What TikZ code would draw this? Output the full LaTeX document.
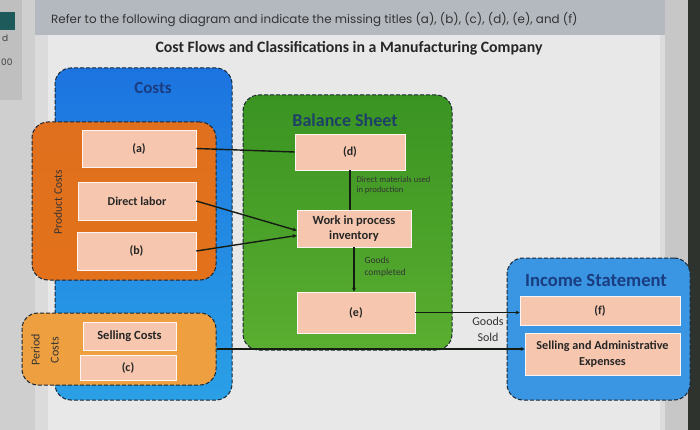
\documentclass[tikz,border=0pt]{standalone}
\usepackage{fontspec}
\setmainfont{Carlito}
\newfontfamily\hdrfont{Poppins}
\usetikzlibrary{arrows.meta}
\definecolor{costblue}{HTML}{1C74E0}
\definecolor{costblue2}{HTML}{2AA0E6}
\definecolor{prodorange}{HTML}{E0701E}
\definecolor{perorange}{HTML}{EEA040}
\definecolor{bsgreen}{HTML}{3A9422}
\definecolor{bsgreen2}{HTML}{5AAE30}
\definecolor{isblue}{HTML}{3A96E2}
\definecolor{pinkbox}{HTML}{F6C6AE}
\definecolor{edgecol}{HTML}{1A2633}
\definecolor{navytitle}{HTML}{1A3C80}
\definecolor{bstitle}{HTML}{1D4068}
\definecolor{linecol}{HTML}{141C14}
\definecolor{tealblock}{HTML}{1F5A5A}
\definecolor{hdrband}{HTML}{B4B8BF}
\definecolor{darkedge}{HTML}{2E332E}
\tikzset{
  container/.style={draw=edgecol, line width=1pt, dash pattern=on 4pt off 2pt,
    rounded corners=16pt, inner sep=0pt},
  pbox/.style={fill=pinkbox, draw=white!85!pinkbox, line width=0.6pt, inner sep=1pt,
    align=center, font=\fontsize{12}{14}\selectfont\bfseries, text=black!85},
  flow/.style={draw=linecol, line width=1.4pt, -{Stealth[length=4pt,width=4pt]}},
  flowplain/.style={draw=linecol, line width=1.4pt},
  ctitle/.style={font=\fontsize{18}{20}\selectfont\bfseries},
  small/.style={font=\fontsize{8.6}{10.5}\selectfont, align=left, text=black!80},
}
\begin{document}
\begin{tikzpicture}[x=1pt,y=-1pt]
\useasboundingbox (0,0) rectangle (700,430);
% screen background
\fill[black!19] (0,0) rectangle (700,430);
\fill[black!25] (0,0) rectangle (22,100);
\fill[tealblock] (0,12) rectangle (15,30);
\node[anchor=west, inner sep=0pt, text=black!75, font=\fontsize{9}{10}\selectfont\hdrfont] (sd) at (2,38) {d};
\node[anchor=west, inner sep=0pt, text=black!75, font=\fontsize{9}{10}\selectfont\hdrfont] (s0) at (1,62) {00};
\fill[black!14] (35,0) rectangle (665,430);
\fill[hdrband] (35,0) rectangle (665,35);
\fill[black!9] (48,35) rectangle (660,430);
\fill[black!22] (665,0) rectangle (688,430);
\fill[darkedge] (688,0) rectangle (700,430);
% header
\node[anchor=west, inner sep=0pt, text=black!80, font=\fontsize{11.9}{13}\selectfont\hdrfont] (hdr) at (51,20)
  {Refer to the following diagram and indicate the missing titles (a), (b), (c), (d), (e), and (f)};
\node[inner sep=0pt, text=black!85, font=\fontsize{15.8}{18}\selectfont\bfseries] (ttl) at (349,48)
  {Cost Flows and Classifications in a Manufacturing Company};
% containers
\node[container, top color=costblue, bottom color=costblue2, minimum width=177pt, minimum height=332pt] (costs) at (143.5,234) {};
\node[ctitle, text=navytitle, font=\fontsize{17}{19}\selectfont\bfseries] (coststitle) at (153,88) {Costs};
\node[container, top color=prodorange, bottom color=prodorange!90!orange, minimum width=184pt, minimum height=158pt] (prod) at (124,201) {};
\node[container, fill=perorange, minimum width=194pt, minimum height=72pt] (period) at (119,349) {};
\node[container, top color=bsgreen, bottom color=bsgreen2, minimum width=209pt, minimum height=255pt] (bs) at (347.5,222.5) {};
\node[ctitle, text=bstitle] (bstitle) at (345,120) {Balance Sheet};
\node[container, fill=isblue, minimum width=183pt, minimum height=142pt] (is) at (598.5,329) {};
\node[ctitle, text=navytitle, font=\fontsize{18.6}{20}\selectfont\bfseries] (istitle) at (596,280) {Income Statement};
% side labels
\node[rotate=90, font=\fontsize{11.5}{13}\selectfont, text=black!80] (prodlbl) at (58,202) {Product Costs};
\node[rotate=90, align=center, font=\fontsize{12}{19}\selectfont, text=black!80] (perlbl) at (45,350) {Period\\Costs};
% pink boxes
\node[pbox, minimum width=114pt, minimum height=37pt] (a) at (139,148.5) {(a)};
\node[pbox, minimum width=118pt, minimum height=38pt] (dl) at (137,201) {Direct labor};
\node[pbox, minimum width=119pt, minimum height=38pt] (b) at (136.5,251) {(b)};
\node[pbox, minimum width=93pt, minimum height=28pt, font=\fontsize{12.5}{14}\selectfont\bfseries] (sc) at (129.5,336) {Selling Costs};
\node[pbox, minimum width=96pt, minimum height=25pt] (c) at (128,367.5) {(c)};
\node[pbox, minimum width=110pt, minimum height=36pt] (d) at (350,152) {(d)};
\node[pbox, minimum width=114pt, minimum height=37pt, font=\fontsize{12.5}{15.5}\selectfont\bfseries] (wip) at (354,228.5) {Work in process\\inventory};
\node[pbox, minimum width=118pt, minimum height=41pt] (e) at (356,312.5) {(e)};
\node[pbox, minimum width=160pt, minimum height=29pt] (f) at (600,310.5) {(f)};
\node[pbox, minimum width=155pt, minimum height=42pt, font=\fontsize{12.2}{16}\selectfont\bfseries] (sa) at (602.5,354) {Selling and Administrative\\Expenses};
% connectors
\draw[flowplain] (a.east) -- (d.west);
\draw[flow] (dl.east) -- ([yshift=-2pt]wip.west);
\draw[flow] (b.east) -- ([yshift=-7pt]wip.west);
\draw[flowplain] (d.south) -- (d.south |- wip.north);
\draw[flow] (wip.south) -- (wip.south |- e.north);
\draw[flow] (e.east) -- (e.east -| f.west);
\draw[flow] (period.east) -- (period.east -| sa.west);
% flow labels
\node[small, anchor=west] (dmlbl) at (353,185) {Direct materials used\\in production};
\node[small, anchor=west, font=\fontsize{9.5}{12}\selectfont] (gclbl) at (361,267) {Goods\\completed};
\node[align=center, font=\fontsize{12}{16}\selectfont, text=black!80] (gslbl) at (488,329) {Goods\\Sold};
\end{tikzpicture}
\end{document}
